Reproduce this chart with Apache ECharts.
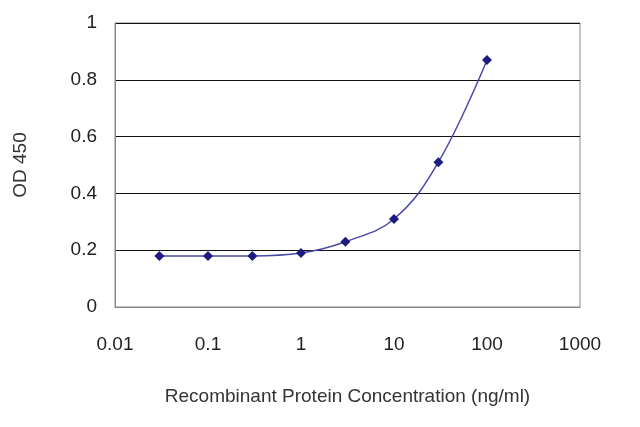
<!DOCTYPE html>
<html>
<head>
<meta charset="utf-8">
<script src="https://cdn.jsdelivr.net/npm/echarts@6/dist/echarts.min.js"></script>
<style>html,body{margin:0;padding:0;background:#fff}#chart{width:640px;height:427px}</style>
</head>
<body>
<div id="chart"></div>
<script>
// 浓度 (ng/ml) 与 OD450
const concentrations = [0.03, 0.1, 0.3, 1, 3, 10, 30, 100]
const odValues = [0.18, 0.18, 0.18, 0.19, 0.23, 0.31, 0.51, 0.87]

const font = 'Liberation Sans, Arial, sans-serif'
const chart = echarts.init(document.getElementById('chart'))
chart.setOption({
  animation: false,
  grid: { left: 115, right: 60, top: 23, bottom: 120, show: true, borderColor: '#888', borderWidth: 1 },
  xAxis: {
    type: 'log', logBase: 10, min: 0.01, max: 1000,
    name: 'Recombinant Protein Concentration (ng/ml)',
    nameLocation: 'middle', nameGap: 80,
    nameTextStyle: { fontFamily: font, fontSize: 19, color: '#333' },
    axisLine: { lineStyle: { color: '#888' } },
    axisTick: { show: false },
    splitLine: { show: false },
    axisLabel: { fontFamily: font, fontSize: 19, color: '#222', margin: 28, formatter: v => String(v) }
  },
  yAxis: {
    type: 'value', min: 0, max: 1, interval: 0.2,
    name: 'OD 450', nameLocation: 'middle', nameGap: 85,
    nameTextStyle: { fontFamily: font, fontSize: 19, color: '#333' },
    axisLine: { show: true, lineStyle: { color: '#888' } },
    axisTick: { show: false },
    splitLine: { lineStyle: { color: '#111', width: 1 } },
    axisLabel: { fontFamily: font, fontSize: 19, color: '#222', margin: 18, formatter: v => String(+v.toFixed(1)) }
  },
  series: [{
    type: 'line', smooth: 0.4,
    data: concentrations.map((c, i) => [c, odValues[i]]),
    symbol: 'diamond', symbolSize: 10,
    lineStyle: { color: '#4a4aa8', width: 1.5 },
    itemStyle: { color: '#1c1c80' }
  }]
})
</script>
</body>
</html>
